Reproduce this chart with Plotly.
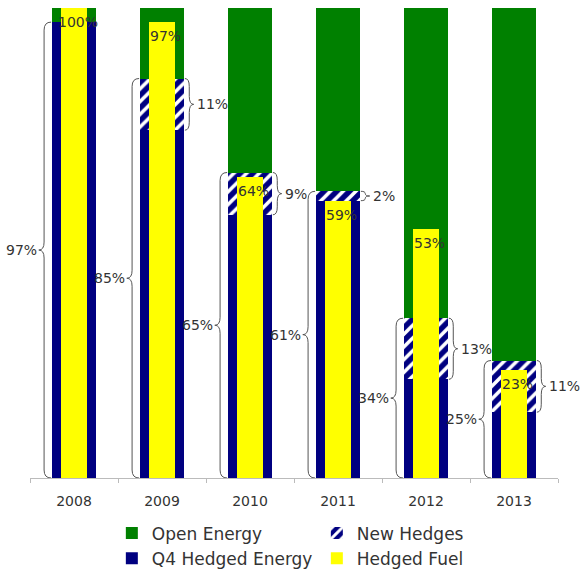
import plotly.graph_objects as go

years = ["2008", "2009", "2010", "2011", "2012", "2013"]
total_hedged = [97, 85, 65, 61, 34, 25]      # Q4 hedged energy incl. new hedges (left braces)
new_hedges = [0, 11, 9, 2, 13, 11]           # new hedges (right braces)
hedged_fuel = [100, 97, 64, 59, 53, 23]      # yellow bars

xs = list(range(len(years)))
q4_hedged = [t - n for t, n in zip(total_hedged, new_hedges)]
open_energy = [100 - t for t in total_hedged]

NAVY = "#000080"
GREEN = "#008000"
YELLOW = "#FFFF00"
FONT = "DejaVu Sans, Verdana, sans-serif"
TXT = "#333333"

fig = go.Figure()
fig.add_trace(go.Bar(x=xs, y=q4_hedged, base=[0] * len(xs), width=0.5,
                     name="Q4 Hedged Energy", marker=dict(color=NAVY, line=dict(width=0)),
                     legendrank=3))
fig.add_trace(go.Bar(x=xs, y=new_hedges, base=q4_hedged, width=0.5,
                     name="New Hedges",
                     marker=dict(color=NAVY, line=dict(width=0),
                                 pattern=dict(shape="/", bgcolor=NAVY, fgcolor="white",
                                              size=9, solidity=0.4, fillmode="replace")),
                     legendrank=2))
fig.add_trace(go.Bar(x=xs, y=open_energy, base=total_hedged, width=0.5,
                     name="Open Energy", marker=dict(color=GREEN, line=dict(width=0)),
                     legendrank=1))
fig.add_trace(go.Bar(x=xs, y=hedged_fuel, base=[0] * len(xs), width=0.3,
                     name="Hedged Fuel", marker=dict(color=YELLOW, line=dict(width=0)),
                     legendrank=4))

shapes = []
annotations = []


def brace(x_end, x_body, x_tip, y0, y1):
    r = min(1.7, (y1 - y0) / 4.0)
    ym = (y0 + y1) / 2.0
    return (f"M {x_end},{y1} Q {x_body},{y1} {x_body},{y1 - r} "
            f"L {x_body},{ym + r} Q {x_body},{ym} {x_tip},{ym} "
            f"Q {x_body},{ym} {x_body},{ym - r} L {x_body},{y0 + r} "
            f"Q {x_body},{y0} {x_end},{y0}")


for i, x in enumerate(xs):
    # left brace: total hedged
    t = total_hedged[i]
    shapes.append(dict(type="path", xref="x", yref="y",
                       path=brace(x - 0.26, x - 0.34, x - 0.40, 0, t),
                       line=dict(color="#555555", width=1)))
    annotations.append(dict(x=x - 0.40, y=t / 2.0, xref="x", yref="y",
                            text=f"{t}%", showarrow=False, xanchor="right",
                            font=dict(family=FONT, size=14, color=TXT)))
    # right brace: new hedges
    n = new_hedges[i]
    if n > 0:
        b = q4_hedged[i]
        shapes.append(dict(type="path", xref="x", yref="y",
                           path=brace(x + 0.26, x + 0.31, x + 0.36, b, b + n),
                           line=dict(color="#555555", width=1)))
        annotations.append(dict(x=x + 0.38, y=b + n / 2.0, xref="x", yref="y",
                                text=f"{n}%", showarrow=False, xanchor="left",
                                font=dict(family=FONT, size=14, color=TXT)))
    # hedged fuel label
    f = hedged_fuel[i]
    annotations.append(dict(x=x + 0.04, y=f, xref="x", yref="y", text=f"{f}%",
                            showarrow=False, xanchor="center", yanchor="top",
                            yshift=-4,
                            font=dict(family=FONT, size=14, color=TXT)))

fig.update_layout(
    width=581, height=569,
    margin=dict(l=30, r=23, t=8, b=91, autoexpand=False),
    barmode="overlay",
    bargap=0,
    plot_bgcolor="white", paper_bgcolor="white",
    font=dict(family=FONT, color=TXT),
    shapes=shapes,
    annotations=annotations,
    showlegend=True,
    legend=dict(orientation="h", x=0.155, xanchor="left",
                yref="container", y=0.094, yanchor="top",
                entrywidth=160, entrywidthmode="pixels", itemwidth=30,
                font=dict(family=FONT, size=17, color=TXT),
                traceorder="normal", tracegroupgap=0),
    xaxis=dict(range=[-0.5, 5.5], tickvals=xs, ticktext=years, ticks="",
               showline=True, linecolor="#BBBBBB", linewidth=1,
               showgrid=False, zeroline=False, automargin=False,
               ticklabelstandoff=10,
               tickfont=dict(family=FONT, size=14, color=TXT),
               minor=dict(tickvals=[v - 0.5 for v in xs] + [xs[-1] + 0.5],
                          ticks="outside", ticklen=4, tickcolor="#BBBBBB",
                          showgrid=False)),
    yaxis=dict(range=[0, 100], visible=False, showgrid=False, zeroline=False),
)

fig.write_html("out.html")
